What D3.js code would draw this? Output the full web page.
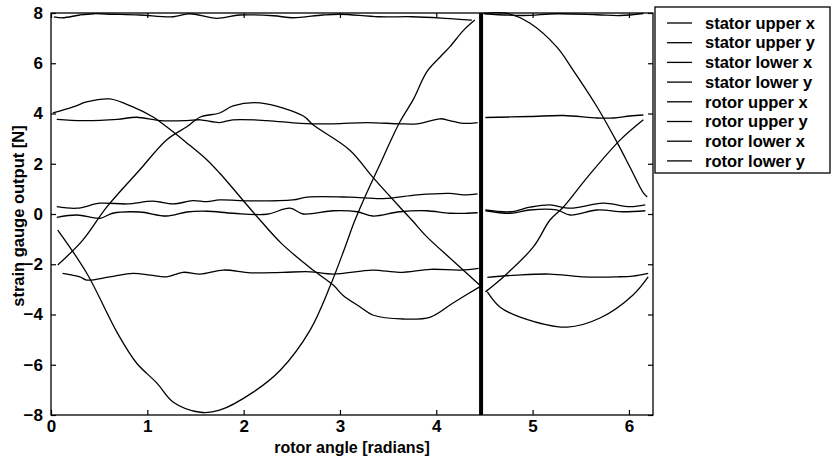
<!DOCTYPE html>
<html>
<head>
<meta charset="utf-8">
<title>strain gauge output</title>
<script src="https://d3js.org/d3.v7.min.js"></script>
<style>
  body { margin: 0; background: #fff; }
  text { font-family: Arial, "Liberation Sans", sans-serif; font-weight: bold; fill: #000; }
  .curve { fill: none; stroke: #000; stroke-width: 1.3px; stroke-linejoin: round; }
  .frame { fill: none; stroke: #000; stroke-width: 1.3px; }
  .tick line { stroke: #000; stroke-width: 1.2px; }
</style>
</head>
<body>
<div id="box"></div>
<script>
// legend labels
var labels = ["stator upper x", "stator upper y", "stator lower x", "stator lower y",
              "rotor upper x", "rotor upper y", "rotor lower x", "rotor lower y"];

var xTicks = [0, 1, 2, 3, 4, 5, 6];
var yTicks = [-8, -6, -4, -2, 0, 2, 4, 6, 8];

// the break in the record (thick marker)
var breakAngle = 4.465;

// [rotor angle, output]; null = gap at the break
var statorUpperX = [[0.03,7.85],[0.12,7.81],[0.30,7.92],[0.44,7.97],[0.64,7.95],[0.92,7.92],[1.27,7.85],
  [1.44,7.97],[1.72,7.79],[1.96,7.92],[2.31,7.89],[2.51,7.81],[2.82,7.92],[3.00,7.95],[3.40,7.85],
  [3.75,7.85],[4.09,7.79],[4.37,7.72], null,
  [4.50,7.97],[4.90,7.90],[5.25,7.97],[5.67,7.93],[5.91,7.90],[6.15,7.98]];

var statorUpperY = [[0.06,3.77],[0.33,3.72],[0.69,3.77],[0.89,3.85],[1.13,3.72],[1.41,3.72],[1.55,3.75],
  [1.75,3.64],[1.89,3.75],[2.24,3.72],[2.59,3.61],[2.93,3.59],[3.28,3.64],[3.62,3.59],[3.80,3.59],
  [4.04,3.79],[4.14,3.72],[4.28,3.61],[4.43,3.64], null,
  [4.51,3.84],[4.97,3.88],[5.32,3.92],[5.67,3.82],[5.84,3.82],[6.01,3.90],[6.15,3.94]];

var statorLowerX = [[0.06,0.29],[0.27,0.23],[0.51,0.43],[0.79,0.40],[1.06,0.51],[1.27,0.40],[1.47,0.53],
  [1.62,0.49],[1.75,0.56],[2.07,0.52],[2.51,0.56],[2.66,0.67],[3.10,0.67],[3.45,0.61],[3.80,0.76],
  [4.14,0.82],[4.28,0.76],[4.43,0.80], null,
  [4.51,0.16],[4.77,0.09],[4.97,0.27],[5.18,0.36],[5.39,0.23],[5.73,0.43],[6.01,0.29],[6.17,0.36]];

var statorLowerY = [[0.06,-0.13],[0.27,-0.04],[0.51,-0.17],[0.64,0.03],[0.92,0.08],[1.20,-0.08],[1.41,0.08],
  [1.62,0.11],[1.89,0.03],[2.24,-0.01],[2.48,0.23],[2.62,0.00],[2.93,0.13],[3.18,0.09],[3.34,-0.08],
  [3.62,0.09],[3.90,0.13],[4.14,0.03],[4.32,0.03],[4.43,0.05], null,
  [4.51,0.13],[4.77,0.03],[4.97,0.16],[5.25,0.16],[5.39,-0.04],[5.67,0.16],[5.94,0.09],[6.17,0.13]];

var rotorUpperX = [[0.07,-0.64],[0.37,-2.35],[0.69,-4.74],[0.89,-5.94],[1.10,-6.73],[1.27,-7.49],[1.55,-7.89],
  [1.75,-7.81],[2.10,-7.09],[2.38,-6.22],[2.69,-4.62],[2.90,-2.85],[3.05,-1.35],[3.15,-0.30],[3.25,0.60],
  [3.40,1.85],[3.62,3.65],[3.76,4.55],[3.90,5.65],[4.04,6.25],[4.14,6.65],[4.28,7.30],[4.40,7.72], null,
  [4.49,7.98],[4.74,7.98],[4.97,7.60],[5.25,6.65],[5.42,5.73],[5.67,4.26],[5.88,2.83],[6.01,1.87],
  [6.15,0.84],[6.19,0.68]];

var rotorUpperY = [[0.07,-2.03],[0.33,-1.04],[0.58,0.28],[0.92,1.75],[1.20,2.95],[1.41,3.47],[1.55,3.86],
  [1.75,4.02],[1.89,4.30],[2.17,4.42],[2.62,3.90],[2.72,3.55],[3.10,2.55],[3.34,1.47],[3.62,0.28],
  [3.76,-0.30],[3.90,-0.90],[4.17,-1.85],[4.45,-2.83], null,
  [4.51,-3.10],[4.66,-2.63],[5.01,-1.30],[5.18,-0.24],[5.32,0.28],[5.57,1.47],[5.91,2.95],[6.15,3.75]];

var rotorLowerX = [[0.02,4.02],[0.23,4.26],[0.37,4.46],[0.61,4.58],[0.85,4.26],[1.06,3.86],[1.20,3.47],
  [1.41,2.83],[1.62,2.15],[1.75,1.63],[2.17,-0.24],[2.40,-1.20],[2.72,-2.23],[2.93,-2.83],[3.03,-3.23],
  [3.21,-3.70],[3.34,-4.02],[3.66,-4.18],[3.94,-4.10],[4.17,-3.55],[4.45,-2.90], null,
  [4.53,-3.10],[4.66,-3.70],[4.87,-4.10],[5.36,-4.50],[5.70,-4.14],[6.04,-3.23],[6.20,-2.50]];

var rotorLowerY = [[0.12,-2.36],[0.30,-2.50],[0.37,-2.63],[0.61,-2.50],[0.85,-2.36],[1.03,-2.43],[1.20,-2.50],
  [1.37,-2.32],[1.55,-2.39],[1.79,-2.23],[2.07,-2.34],[2.41,-2.32],[2.69,-2.30],[2.93,-2.39],[3.34,-2.23],
  [3.62,-2.32],[3.94,-2.20],[4.25,-2.23],[4.44,-2.16], null,
  [4.53,-2.52],[4.84,-2.43],[5.18,-2.39],[5.52,-2.50],[5.88,-2.50],[6.04,-2.47],[6.20,-2.36]];

var series = [statorUpperX, statorUpperY, statorLowerX, statorLowerY,
              rotorUpperX, rotorUpperY, rotorLowerX, rotorLowerY];

var W = 832, H = 459;
var plot = {left: 51, right: 653, top: 13, bottom: 415};

var svg = d3.select('#box').append('svg')
  .attr('width', W).attr('height', H).style('display', 'block');

var x = d3.scaleLinear().domain([0, 6.25]).range([plot.left, plot.right]);
var y = d3.scaleLinear().domain([-8, 8]).range([plot.bottom, plot.top]);

// curves
var line = d3.line()
  .defined(d => d !== null)
  .x(d => x(d[0]))
  .y(d => y(d[1]))
  .curve(d3.curveCatmullRom.alpha(0.5));

svg.append('g').selectAll('path')
  .data(series)
  .enter().append('path')
  .attr('class', 'curve')
  .attr('d', line);

// thick marker at the break
svg.append('line')
  .attr('x1', x(breakAngle)).attr('x2', x(breakAngle))
  .attr('y1', y(8)).attr('y2', y(-8))
  .attr('stroke', '#000').attr('stroke-width', 4);

// axes, ticks pointing in
var fs = '17px';
var fmt = d3.format('d');
var gx = svg.append('g').attr('transform', `translate(0,${plot.bottom})`)
  .call(d3.axisBottom(x).tickValues(xTicks).tickFormat(fmt).tickSize(-5).tickPadding(5).tickSizeOuter(0));
var gy = svg.append('g').attr('transform', `translate(${plot.left},0)`)
  .call(d3.axisLeft(y).tickValues(yTicks).tickFormat(fmt).tickSize(-5).tickPadding(8).tickSizeOuter(0));
var gt = svg.append('g').attr('transform', `translate(0,${plot.top})`)
  .call(d3.axisTop(x).tickValues(xTicks).tickSize(-5).tickFormat('').tickSizeOuter(0));
var gr = svg.append('g').attr('transform', `translate(${plot.right},0)`)
  .call(d3.axisRight(y).tickValues(yTicks).tickSize(-5).tickFormat('').tickSizeOuter(0));

[gx, gy, gt, gr].forEach(g => {
  g.select('.domain').remove();
  g.selectAll('text').style('font-size', fs).style('font-family', null).attr('fill', '#000');
});

svg.append('rect').attr('class', 'frame')
  .attr('x', plot.left).attr('y', plot.top)
  .attr('width', plot.right - plot.left).attr('height', plot.bottom - plot.top);

// axis titles
svg.append('text')
  .attr('x', (plot.left + plot.right) / 2).attr('y', 453)
  .attr('text-anchor', 'middle').style('font-size', '16px')
  .text('rotor angle [radians]');

svg.append('text')
  .attr('transform', 'translate(24,216) rotate(-90)')
  .attr('text-anchor', 'middle').style('font-size', '16.5px')
  .text('strain gauge output [N]');

// legend
var leg = svg.append('g');
leg.append('rect').attr('class', 'frame')
  .attr('x', 655).attr('y', 7).attr('width', 175).attr('height', 166)
  .attr('fill', '#fff');

var row = leg.selectAll('.row').data(labels).enter().append('g')
  .attr('transform', (d, i) => `translate(0,${23 + i * 19.7})`);
row.append('line')
  .attr('x1', 667).attr('x2', 692)
  .attr('stroke', '#000').attr('stroke-width', 1.3);
row.append('text')
  .attr('x', 705).attr('dy', '0.35em')
  .style('font-size', '16.5px')
  .text(d => d);
</script>
</body>
</html>
